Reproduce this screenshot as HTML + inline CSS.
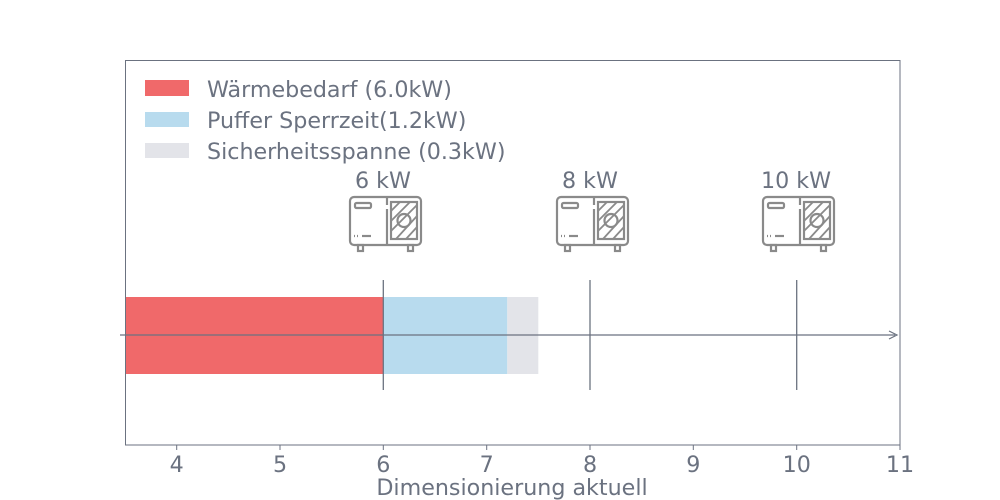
<!DOCTYPE html>
<html><head><meta charset="utf-8"><style>
html,body{margin:0;padding:0;background:#fff;}
svg{display:block;font-family:"DejaVu Sans","Liberation Sans",sans-serif;}
</style></head><body>
<svg width="1000" height="500" viewBox="0 0 1000 500" xmlns="http://www.w3.org/2000/svg">
<defs>
<g id="hp" fill="none" stroke="#8a8a8a" stroke-width="2.2">
  <rect x="0" y="0" width="71" height="48" rx="4"/>
  <line x1="37" y1="0" x2="37" y2="8"/>
  <line x1="37" y1="12" x2="37" y2="48"/>
  <rect x="41" y="5" width="26" height="37"/>
  <rect x="5" y="6" width="16" height="5" rx="1.5"/>
  <line x1="12" y1="39" x2="21" y2="39"/>
  <line x1="4" y1="39" x2="5" y2="39"/><line x1="7" y1="39" x2="8" y2="39"/>
  <circle cx="54" cy="23.5" r="6.5"/>
  <g stroke-width="1.8">
  <line x1="41" y1="14" x2="50" y2="5"/>
  <line x1="41" y1="24" x2="60" y2="5"/>
  <line x1="41" y1="34" x2="67" y2="8"/>
  <line x1="46" y1="42" x2="67" y2="19"/>
  <line x1="56" y1="42" x2="67" y2="30"/>
  </g>
  <rect x="8" y="48" width="5" height="6"/>
  <rect x="58" y="48" width="5" height="6"/>
</g>
</defs>
<rect x="125" y="297" width="258.3" height="77" fill="#f0696a"/>
<rect x="383.3" y="297" width="124" height="77" fill="#b8dbee"/>
<rect x="507.3" y="297" width="31" height="77" fill="#e3e4e9"/>
<line x1="120" y1="335" x2="895" y2="335" stroke="#6b7280" stroke-width="1.2"/>
<path d="M889,331 L897,335 L889,339" fill="none" stroke="#6b7280" stroke-width="1.2"/>
<g stroke="#6b7280" stroke-width="1.3">
<line x1="383.3" y1="280" x2="383.3" y2="390"/>
<line x1="590" y1="280" x2="590" y2="390"/>
<line x1="796.7" y1="280" x2="796.7" y2="390"/>
</g>
<rect x="125.5" y="60.5" width="774.5" height="384.5" fill="none" stroke="#6b7280" stroke-width="1"/>
<g stroke="#6b7280" stroke-width="1">
<line x1="176.7" y1="445" x2="176.7" y2="450"/><line x1="280" y1="445" x2="280" y2="450"/>
<line x1="383.3" y1="445" x2="383.3" y2="450"/><line x1="486.7" y1="445" x2="486.7" y2="450"/>
<line x1="590" y1="445" x2="590" y2="450"/><line x1="693.3" y1="445" x2="693.3" y2="450"/>
<line x1="796.7" y1="445" x2="796.7" y2="450"/><line x1="900" y1="445" x2="900" y2="450"/>
</g>
<g fill="#6b7280" font-size="22.2" text-anchor="middle">
<text x="176.7" y="472">4</text><text x="280" y="472">5</text><text x="383.3" y="472">6</text>
<text x="486.7" y="472">7</text><text x="590" y="472">8</text><text x="693.3" y="472">9</text>
<text x="796.7" y="472">10</text><text x="900" y="472">11</text>
<text x="512" y="495">Dimensionierung aktuell</text>
<text x="383" y="188">6 kW</text><text x="590" y="188">8 kW</text><text x="796" y="188">10 kW</text>
</g>
<use href="#hp" x="350" y="197"/>
<use href="#hp" x="557" y="197"/>
<use href="#hp" x="763" y="197"/>
<rect x="145" y="80" width="44" height="16" fill="#f0696a"/>
<rect x="145" y="112" width="44" height="15" fill="#b8dbee"/>
<rect x="145" y="143" width="44" height="15" fill="#e3e4e9"/>
<g fill="#6b7280" font-size="22.2">
<text x="207" y="97">Wärmebedarf (6.0kW)</text>
<text x="207" y="128">Puffer Sperrzeit(1.2kW)</text>
<text x="207" y="159">Sicherheitsspanne (0.3kW)</text>
</g>
</svg>
</body></html>
